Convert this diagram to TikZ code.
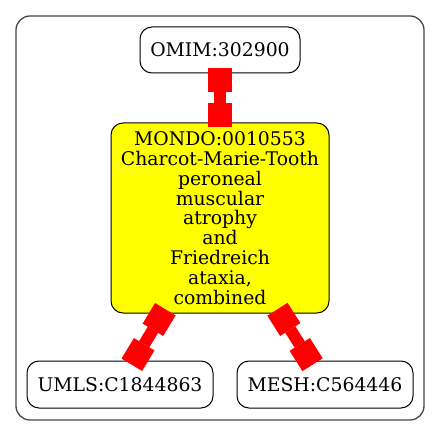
\documentclass[tikz,border=0pt]{standalone}
\usepackage{fontspec}
\setmainfont{DejaVu Serif}
\usetikzlibrary{arrows.meta}
\definecolor{gvyellow}{RGB}{255,255,0}
\definecolor{gvred}{RGB}{255,0,0}
\definecolor{gvgray}{RGB}{70,70,70}
\begin{document}
\begin{tikzpicture}[x=1pt,y=-1pt,
  nodebox/.style={draw=black, line width=1pt, rounded corners=12pt, inner sep=0pt, align=center,
    font=\fontsize{18.8}{19.8}\selectfont},
  edgeline/.style={draw=gvred, line width=12pt,
    {Square[length=24pt,width=24pt,line width=0pt]}-{Square[length=24pt,width=24pt,line width=0pt]},
    shorten <=-5pt, shorten >=-5pt},
  frame/.style={draw=gvgray, line width=1.3pt, rounded corners=14pt}]
\useasboundingbox (0,0) rectangle (440,436);
\draw[frame] (16,16) rectangle (424,420);
\node[nodebox, minimum width=160pt, minimum height=46pt] (omim) at (220,50) {OMIM:302900};
\node[nodebox, fill=gvyellow, minimum width=218pt, minimum height=190pt] (mondo) at (220,218)
  {MONDO:0010553\\Charcot-Marie-Tooth\\peroneal\\muscular\\atrophy\\and\\Friedreich\\ataxia,\\combined};
\node[nodebox, minimum width=186pt, minimum height=47pt] (umls) at (120,384.5) {UMLS:C1844863};
\node[nodebox, minimum width=176pt, minimum height=47pt] (mesh) at (325,384.5) {MESH:C564446};
\draw[edgeline] (omim) -- (mondo);
\draw[edgeline] (mondo) -- (umls);
\draw[edgeline] (mondo) -- (mesh);
\end{tikzpicture}
\end{document}
